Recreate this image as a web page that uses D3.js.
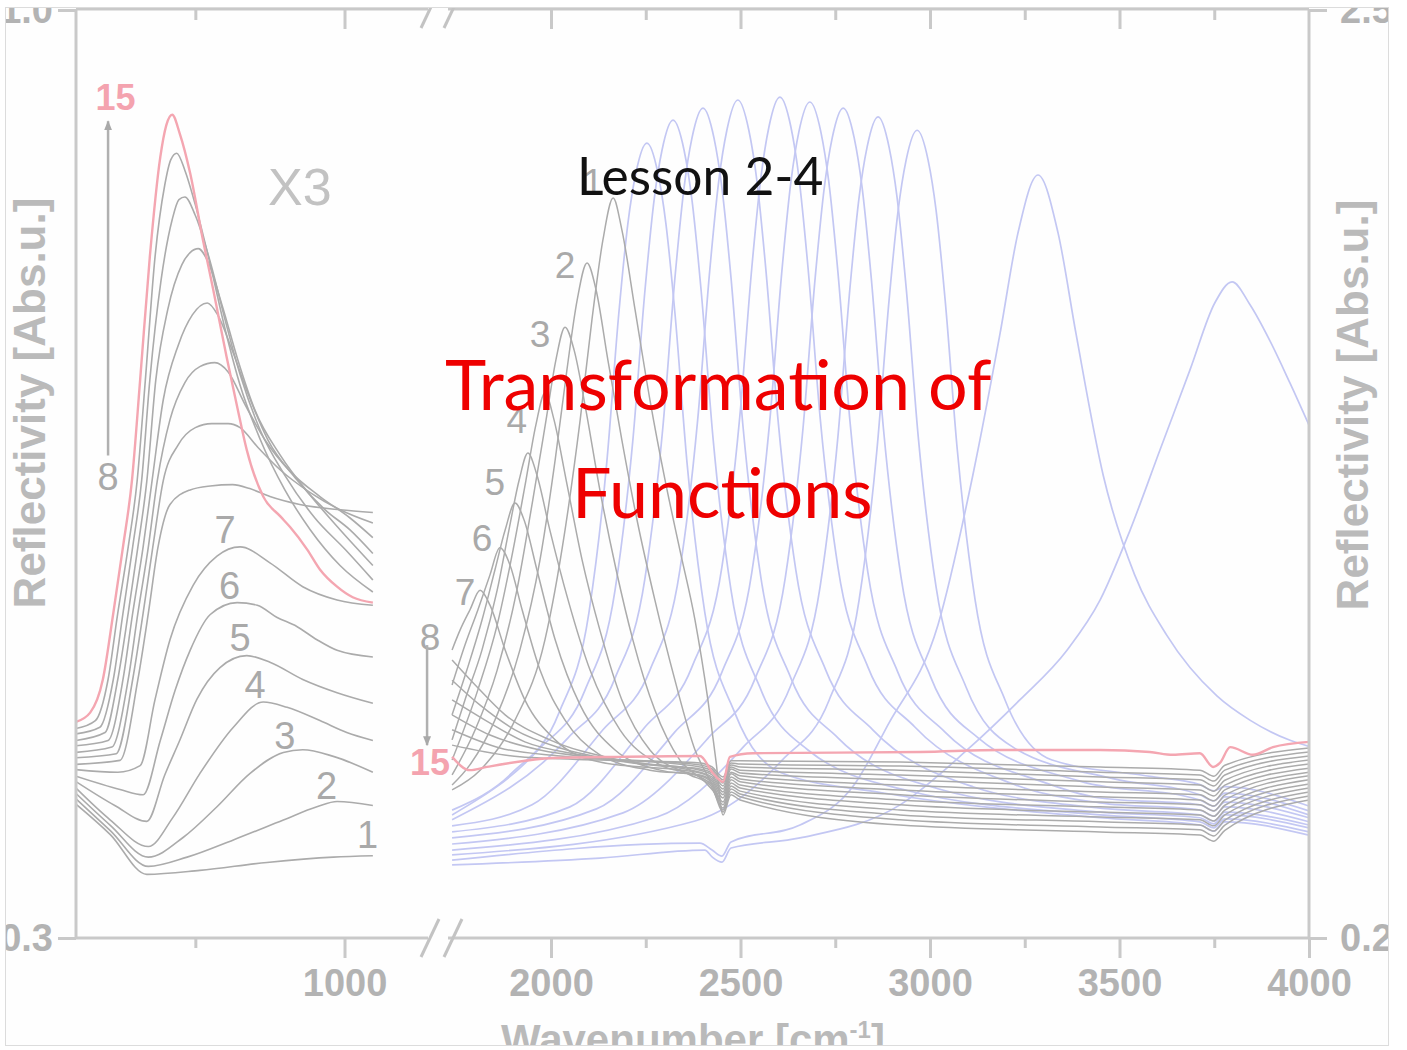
<!DOCTYPE html>
<html>
<head>
<meta charset="utf-8">
<script src="https://cdn.jsdelivr.net/npm/d3@7"></script>
<style>
  body { margin: 0; background: #fff; }
  svg { display: block; }
</style>
</head>
<body>
<div id="chart"></div>
<script>
// ---- left panel (far IR, left axis) : [wavenumber, reflectivity]
const left01 = [[640,0.401],[686,0.378],[735,0.348],[806,0.351],[896,0.357],[985,0.361],[1038,0.362]];
const left02 = [[640,0.405],[686,0.381],[737,0.354],[789,0.361],[851,0.374],[918,0.389],[963,0.399],[990,0.403],[1038,0.400]];
const left03 = [[640,0.409],[686,0.385],[737,0.361],[784,0.376],[829,0.399],[873,0.424],[918,0.440],[944,0.442],[985,0.437],[1038,0.425]];
const left04 = [[640,0.413],[686,0.389],[737,0.369],[770,0.391],[806,0.424],[851,0.459],[891,0.478],[923,0.474],[967,0.464],[1003,0.455],[1038,0.449]];
const left05 = [[640,0.418],[692,0.400],[735,0.388],[759,0.423],[779,0.449],[802,0.480],[833,0.504],[869,0.513],[900,0.508],[944,0.495],[990,0.485],[1038,0.477]];
const left06 = [[640,0.422],[699,0.412],[730,0.408],[753,0.449],[773,0.487],[793,0.517],[820,0.544],[856,0.553],[883,0.551],[909,0.542],[936,0.535],[963,0.525],[990,0.517],[1038,0.512]];
const left07 = [[640,0.427],[696,0.425],[726,0.430],[746,0.480],[766,0.525],[797,0.566],[829,0.588],[860,0.595],[900,0.583],[944,0.565],[990,0.555],[1038,0.551]];
const left08 = [[640,0.431],[699,0.434],[723,0.495],[737,0.545],[750,0.595],[766,0.627],[793,0.638],[820,0.641],[850,0.642],[873,0.639],[900,0.633],[940,0.627],[994,0.623],[1038,0.621]];
const left09 = [[640,0.436],[694,0.439],[716,0.495],[730,0.545],[743,0.595],[757,0.645],[777,0.672],[800,0.685],[822,0.688],[844,0.688],[860,0.685],[884,0.670],[914,0.653],[954,0.636],[994,0.623],[1038,0.613]];
const left10 = [[640,0.440],[688,0.444],[710,0.495],[723,0.545],[737,0.595],[749,0.645],[766,0.691],[786,0.719],[806,0.731],[826,0.734],[844,0.727],[867,0.702],[893,0.676],[927,0.652],[967,0.633],[1007,0.617],[1038,0.602]];
const left11 = [[640,0.445],[683,0.449],[703,0.495],[716,0.545],[730,0.595],[742,0.645],[757,0.706],[777,0.747],[796,0.770],[816,0.779],[830,0.770],[849,0.744],[871,0.710],[897,0.676],[934,0.647],[974,0.623],[1007,0.608],[1038,0.590]];
const left12 = [[640,0.449],[679,0.455],[696,0.495],[710,0.545],[723,0.595],[735,0.645],[747,0.721],[763,0.774],[782,0.808],[793,0.817],[804,0.820],[817,0.810],[836,0.777],[857,0.736],[880,0.698],[914,0.664],[954,0.634],[994,0.608],[1038,0.581]];
const left13 = [[640,0.454],[672,0.459],[690,0.495],[703,0.545],[716,0.595],[728,0.645],[739,0.721],[754,0.796],[769,0.842],[778,0.857],[786,0.859],[800,0.845],[820,0.810],[840,0.766],[860,0.725],[887,0.683],[920,0.649],[960,0.617],[1001,0.593],[1038,0.570]];
const left14 = [[640,0.458],[666,0.464],[683,0.495],[696,0.545],[710,0.595],[722,0.645],[733,0.721],[746,0.814],[759,0.868],[767,0.887],[775,0.892],[786,0.879],[800,0.853],[820,0.808],[840,0.759],[860,0.717],[887,0.676],[920,0.638],[954,0.608],[994,0.581],[1038,0.561]];
const left15 = [[640,0.463],[659,0.470],[676,0.495],[690,0.545],[703,0.595],[715,0.645],[726,0.721],[739,0.814],[753,0.889],[761,0.913],[769,0.921],[779,0.907],[793,0.877],[810,0.827],[824,0.789],[842,0.738],[856,0.701],[869,0.668],[891,0.633],[914,0.618],[927,0.610],[950,0.593],[967,0.578],[990,0.565],[1011,0.557],[1038,0.553]];

// ---- right panel (mid IR, right axis)
const pinkR = [[1739,0.649],[1786,0.616],[1831,0.624],[2005,0.646],[2182,0.649],[2393,0.651],[2427,0.609],[2454,0.587],[2472,0.649],[2533,0.658],[2974,0.661],[3185,0.666],[3449,0.666],[3580,0.661],[3641,0.654],[3712,0.658],[3747,0.624],[3765,0.634],[3792,0.673],[3852,0.654],[3905,0.673],[4000,0.686]];

const grayR01 = [[1739,0.567],[1813,0.616],[1905,0.740],[1984,0.939],[2037,1.211],[2077,1.484],[2108,1.732],[2137,1.930],[2164,2.034],[2187,1.955],[2222,1.756],[2261,1.534],[2301,1.335],[2340,1.162],[2380,0.988],[2414,0.790],[2435,0.641],[2454,0.505],[2475,0.555],[2499,0.542],[2921,0.480],[3449,0.463],[3712,0.455],[3749,0.440],[3778,0.467],[4000,0.542]];
const grayR02 = [[1739,0.579],[1786,0.629],[1852,0.740],[1918,0.914],[1971,1.137],[2011,1.385],[2042,1.608],[2069,1.781],[2095,1.873],[2119,1.806],[2150,1.633],[2187,1.434],[2227,1.236],[2274,1.038],[2327,0.839],[2380,0.666],[2425,0.579],[2454,0.512],[2475,0.562],[2499,0.550],[2921,0.493],[3449,0.475],[3712,0.468],[3749,0.453],[3778,0.480],[4000,0.552]];
const grayR03 = [[1739,0.604],[1800,0.716],[1858,0.864],[1910,1.062],[1952,1.286],[1987,1.484],[2013,1.633],[2037,1.714],[2061,1.657],[2092,1.509],[2129,1.310],[2172,1.112],[2216,0.939],[2274,0.765],[2340,0.641],[2406,0.587],[2435,0.555],[2454,0.517],[2475,0.569],[2499,0.557],[2921,0.505],[3449,0.488],[3712,0.480],[3749,0.465],[3778,0.492],[4000,0.562]];
const grayR04 = [[1739,0.641],[1807,0.815],[1858,0.976],[1900,1.162],[1934,1.335],[1960,1.471],[1984,1.551],[2008,1.484],[2040,1.335],[2082,1.137],[2129,0.963],[2187,0.790],[2261,0.666],[2367,0.604],[2420,0.579],[2454,0.522],[2475,0.577],[2499,0.564],[2921,0.517],[3449,0.500],[3712,0.493],[3749,0.478],[3778,0.505],[4000,0.572]];
const grayR05 = [[1739,0.691],[1773,0.790],[1818,0.914],[1858,1.062],[1889,1.211],[1916,1.335],[1939,1.402],[1963,1.347],[1997,1.211],[2045,1.038],[2103,0.864],[2182,0.716],[2288,0.629],[2393,0.599],[2425,0.579],[2454,0.530],[2475,0.584],[2499,0.572],[2921,0.530],[3449,0.512],[3712,0.505],[3749,0.490],[3778,0.517],[4000,0.582]];
const grayR06 = [[1739,0.753],[1778,0.864],[1818,0.988],[1852,1.112],[1879,1.211],[1905,1.278],[1929,1.236],[1963,1.112],[2011,0.939],[2077,0.777],[2169,0.666],[2288,0.616],[2393,0.602],[2425,0.584],[2454,0.537],[2475,0.592],[2499,0.579],[2921,0.542],[3449,0.525],[3712,0.517],[3749,0.502],[3778,0.529],[4000,0.592]];
const grayR07 = [[1739,0.827],[1773,0.926],[1807,1.013],[1839,1.100],[1865,1.167],[1892,1.124],[1924,1.013],[1971,0.864],[2037,0.740],[2129,0.654],[2261,0.616],[2393,0.604],[2425,0.589],[2454,0.547],[2475,0.599],[2499,0.587],[2921,0.555],[3449,0.537],[3712,0.530],[3749,0.515],[3778,0.542],[4000,0.602]];
const grayR08 = [[1739,0.914],[1760,0.963],[1786,1.013],[1813,1.062],[1839,1.025],[1879,0.914],[1931,0.790],[2011,0.691],[2129,0.636],[2393,0.609],[2425,0.594],[2454,0.555],[2475,0.607],[2499,0.594],[2921,0.567],[3449,0.550],[3712,0.542],[3749,0.527],[3778,0.554],[4000,0.611]];
const grayR09 = [[1739,0.889],[1800,0.827],[1879,0.753],[1997,0.691],[2182,0.641],[2393,0.611],[2425,0.599],[2454,0.562],[2475,0.611],[2499,0.602],[2921,0.579],[3449,0.562],[3712,0.555],[3749,0.540],[3778,0.567],[4000,0.621]];
const grayR10 = [[1739,0.839],[1813,0.777],[1905,0.716],[2024,0.671],[2208,0.636],[2393,0.616],[2425,0.604],[2454,0.569],[2475,0.619],[2499,0.609],[2921,0.592],[3449,0.574],[3712,0.567],[3749,0.552],[3778,0.579],[4000,0.631]];
const grayR11 = [[1739,0.790],[1826,0.740],[1931,0.686],[2077,0.654],[2261,0.629],[2393,0.619],[2425,0.609],[2454,0.577],[2475,0.624],[2499,0.616],[2921,0.604],[3449,0.587],[3712,0.579],[3749,0.564],[3778,0.591],[4000,0.641]];
const grayR12 = [[1739,0.753],[1839,0.703],[1971,0.666],[2129,0.646],[2393,0.624],[2425,0.614],[2454,0.584],[2475,0.629],[2499,0.624],[2921,0.616],[3449,0.599],[3712,0.592],[3749,0.577],[3778,0.604],[4000,0.651]];
const grayR13 = [[1739,0.716],[1865,0.671],[2024,0.651],[2393,0.629],[2425,0.619],[2454,0.592],[2475,0.634],[2499,0.631],[2921,0.626],[3449,0.611],[3712,0.604],[3749,0.589],[3778,0.616],[4000,0.661]];
const grayR14 = [[1739,0.678],[1918,0.649],[2129,0.641],[2393,0.634],[2425,0.624],[2454,0.599],[2475,0.639],[2499,0.639],[2921,0.636],[3449,0.624],[3712,0.616],[3749,0.601],[3778,0.628],[4000,0.671]];

const blueR01 = [[1739,0.517],[1897,0.609],[2021,0.758],[2100,1.006],[2147,1.377],[2179,1.749],[2203,1.972],[2224,2.096],[2253,2.170],[2282,2.096],[2303,1.972],[2327,1.749],[2359,1.377],[2406,1.006],[2485,0.758],[2609,0.609],[2873,0.560],[3449,0.498],[3712,0.480],[3749,0.465],[3778,0.488],[4000,0.455]];
const blueR02 = [[1739,0.505],[1966,0.666],[2090,0.815],[2169,1.062],[2216,1.434],[2248,1.806],[2272,2.029],[2293,2.153],[2322,2.227],[2351,2.153],[2372,2.029],[2396,1.806],[2428,1.434],[2475,1.062],[2554,0.815],[2678,0.666],[2942,0.565],[3449,0.505],[3712,0.488],[3749,0.473],[3778,0.495],[4000,0.463]];
const blueR03 = [[1739,0.493],[2045,0.696],[2169,0.844],[2248,1.092],[2295,1.464],[2327,1.836],[2351,2.059],[2372,2.183],[2401,2.257],[2430,2.183],[2451,2.059],[2475,1.836],[2507,1.464],[2554,1.092],[2633,0.844],[2757,0.696],[3021,0.570],[3449,0.512],[3712,0.498],[3749,0.483],[3778,0.505],[4000,0.473]];
const blueR04 = [[1739,0.478],[1950,0.530],[2137,0.716],[2261,0.864],[2340,1.112],[2387,1.484],[2419,1.856],[2443,2.079],[2464,2.202],[2493,2.277],[2522,2.202],[2543,2.079],[2567,1.856],[2599,1.484],[2646,1.112],[2725,0.864],[2849,0.716],[3113,0.575],[3449,0.522],[3712,0.505],[3749,0.490],[3778,0.512],[4000,0.480]];
const blueR05 = [[1739,0.463],[2050,0.525],[2248,0.723],[2372,0.872],[2451,1.120],[2498,1.491],[2530,1.863],[2554,2.086],[2575,2.210],[2604,2.284],[2633,2.210],[2654,2.086],[2678,1.863],[2710,1.491],[2757,1.120],[2836,0.872],[2960,0.723],[3224,0.580],[3449,0.535],[3712,0.517],[3749,0.502],[3778,0.525],[4000,0.488]];
const blueR06 = [[1739,0.448],[2120,0.520],[2327,0.711],[2451,0.859],[2530,1.107],[2577,1.479],[2609,1.851],[2633,2.074],[2654,2.198],[2683,2.272],[2712,2.198],[2733,2.074],[2757,1.851],[2789,1.479],[2836,1.107],[2915,0.859],[3039,0.711],[3303,0.585],[3449,0.547],[3712,0.530],[3749,0.515],[3778,0.537],[4000,0.498]];
const blueR07 = [[1739,0.433],[2190,0.510],[2415,0.696],[2539,0.844],[2618,1.092],[2665,1.464],[2697,1.836],[2721,2.059],[2742,2.183],[2771,2.257],[2800,2.183],[2821,2.059],[2845,1.836],[2877,1.464],[2924,1.092],[3003,0.844],[3127,0.696],[3391,0.590],[3712,0.542],[3749,0.527],[3778,0.550],[4000,0.505]];
const blueR08 = [[1739,0.418],[2280,0.500],[2507,0.673],[2631,0.822],[2710,1.070],[2757,1.442],[2789,1.813],[2813,2.036],[2834,2.160],[2863,2.235],[2892,2.160],[2913,2.036],[2937,1.813],[2969,1.442],[3016,1.070],[3095,0.822],[3219,0.673],[3483,0.595],[3712,0.555],[3749,0.540],[3778,0.559],[4000,0.515]];
const blueR09 = [[1739,0.406],[2380,0.490],[2610,0.641],[2734,0.790],[2813,1.038],[2860,1.410],[2892,1.781],[2916,2.004],[2937,2.128],[2966,2.202],[2995,2.128],[3016,2.004],[3040,1.781],[3072,1.410],[3119,1.038],[3198,0.790],[3322,0.641],[3586,0.600],[3712,0.580],[3749,0.565],[3778,0.575],[4000,0.527]];
const blueR10 = [[1739,0.393],[2393,0.435],[2425,0.418],[2451,0.403],[2475,0.438],[2657,0.480],[2800,0.580],[2889,0.728],[3021,0.976],[3113,1.347],[3185,1.699],[3232,1.947],[3285,2.091],[3338,1.947],[3385,1.699],[3457,1.347],[3540,1.100],[3625,0.950],[3757,0.800],[3844,0.740],[3950,0.690],[4000,0.675]];
const blueR11 = [[1739,0.381],[2129,0.398],[2406,0.418],[2425,0.401],[2451,0.388],[2475,0.423],[2657,0.448],[2921,0.530],[3098,0.666],[3237,0.790],[3362,0.914],[3449,1.038],[3528,1.211],[3607,1.410],[3686,1.608],[3752,1.775],[3797,1.826],[3844,1.770],[3897,1.680],[3950,1.575],[4000,1.471]];

// ---- ticks
const leftMajorTicks = [1000];
const leftMinorTicks = [800];
const rightMajorTicks = [2000, 2500, 3000, 3500, 4000];
const rightMinorTicks = [2250, 2750, 3250, 3750];
const yLeftTicks = [0.3, 1.0];
const yRightTicks = [0.2, 2.5];

// ---- curve labels [text, wavenumber, value]
const leftLabels = [["8",683,0.648],["7",840,0.608],["6",846,0.566],["5",860,0.527],["4",880,0.491],["3",920,0.453],["2",976,0.415],["1",1031,0.378]];
const rightLabels = [["1",2111,2.074],["2",2037,1.868],["3",1971,1.699],["4",1910,1.484],["5",1852,1.330],["6",1818,1.191],["7",1773,1.058],["8",1681,0.946]];

var width = 1407, height = 1050;
var svg = d3.select("#chart").append("svg")
  .attr("width", width)
  .attr("height", height);

// scales
var xLeft = d3.scaleLinear().domain([640, 1128]).range([76, 440]);
var xRight = d3.scaleLinear().domain([2000, 4000]).range([551, 1309]);
var yLeft = d3.scaleLinear().domain([0.3, 1.0]).range([938, 10]);
var yRight = d3.scaleLinear().domain([0.2, 2.5]).range([938, 10]);

var axisColor = "#c9c9c9", textGray = "#b3b3b3";

var defs = svg.append("defs");
defs.append("clipPath").attr("id", "frame")
  .append("rect").attr("x", 5).attr("y", 7).attr("width", 1384).attr("height", 1039);
defs.append("clipPath").attr("id", "leftPanel")
  .append("rect").attr("x", 76).attr("y", 10).attr("width", 364).attr("height", 928);
defs.append("clipPath").attr("id", "rightPanel")
  .append("rect").attr("x", 440).attr("y", 10).attr("width", 869).attr("height", 928);

var root = svg.append("g").attr("clip-path", "url(#frame)");
root.append("rect").attr("x", 5).attr("y", 7).attr("width", 1384).attr("height", 1039).attr("fill", "#fefefe");

function lineFor(xs, ys) {
  return d3.line()
    .x(function (d) { return xs(d[0]); })
    .y(function (d) { return ys(d[1]); })
    .curve(d3.curveMonotoneX);
}

// left panel curves
var leftG = root.append("g").attr("clip-path", "url(#leftPanel)");
var leftGray = [left01, left02, left03, left04, left05, left06, left07, left08, left09, left10, left11, left12, left13, left14];
leftG.selectAll(".lgray").data(leftGray).enter().append("path")
  .attr("d", lineFor(xLeft, yLeft))
  .attr("fill", "none").attr("stroke", "#ababab").attr("stroke-width", 1.6);
leftG.append("path").datum(left15)
  .attr("d", lineFor(xLeft, yLeft))
  .attr("fill", "none").attr("stroke", "#f4a6b1").attr("stroke-width", 2.4);

// right panel curves
var rightG = root.append("g").attr("clip-path", "url(#rightPanel)");
var blues = [blueR01, blueR02, blueR03, blueR04, blueR05, blueR06, blueR07, blueR08, blueR09, blueR10, blueR11];
var grays = [grayR01, grayR02, grayR03, grayR04, grayR05, grayR06, grayR07, grayR08, grayR09, grayR10, grayR11, grayR12, grayR13, grayR14];
rightG.selectAll(".blue").data(blues).enter().append("path")
  .attr("d", lineFor(xRight, yRight))
  .attr("fill", "none").attr("stroke", "#c3c7f3").attr("stroke-width", 1.7);
rightG.selectAll(".rgray").data(grays).enter().append("path")
  .attr("d", lineFor(xRight, yRight))
  .attr("fill", "none").attr("stroke", "#ababab").attr("stroke-width", 1.5);
rightG.append("path").datum(pinkR)
  .attr("d", lineFor(xRight, yRight))
  .attr("fill", "none").attr("stroke", "#f4a6b1").attr("stroke-width", 2.4);

// axis frame
var axes = root.append("g").attr("stroke", axisColor).attr("stroke-width", 3).attr("fill", "none");
axes.append("line").attr("x1", 76).attr("x2", 1309).attr("y1", 938).attr("y2", 938);
axes.append("line").attr("x1", 76).attr("x2", 1309).attr("y1", 9).attr("y2", 9);
axes.append("line").attr("x1", 76).attr("x2", 76).attr("y1", 9).attr("y2", 938);
axes.append("line").attr("x1", 1309).attr("x2", 1309).attr("y1", 9).attr("y2", 938);

function styleAxis(sel) {
  sel.select(".domain").remove();
  sel.selectAll(".tick line").attr("stroke", axisColor).attr("stroke-width", 3);
  sel.selectAll(".tick text")
    .attr("fill", textGray)
    .style("font-family", "'Liberation Sans', Arial, sans-serif")
    .style("font-weight", "bold")
    .style("font-size", "38px");
}

// bottom ticks (outward) with labels
root.append("g").attr("transform", "translate(0,938)")
  .call(d3.axisBottom(xLeft).tickValues(leftMajorTicks).tickSize(20).tickPadding(11).tickFormat(d3.format("d")))
  .call(styleAxis);
root.append("g").attr("transform", "translate(0,938)")
  .call(d3.axisBottom(xLeft).tickValues(leftMinorTicks).tickSize(10).tickFormat(""))
  .call(styleAxis);
root.append("g").attr("transform", "translate(0,938)")
  .call(d3.axisBottom(xRight).tickValues(rightMajorTicks).tickSize(20).tickPadding(11).tickFormat(d3.format("d")))
  .call(styleAxis);
root.append("g").attr("transform", "translate(0,938)")
  .call(d3.axisBottom(xRight).tickValues(rightMinorTicks).tickSize(10).tickFormat(""))
  .call(styleAxis);

// top ticks (pointing inward)
root.append("g").attr("transform", "translate(0,9)")
  .call(d3.axisBottom(xLeft).tickValues(leftMajorTicks).tickSize(20).tickFormat(""))
  .call(styleAxis);
root.append("g").attr("transform", "translate(0,9)")
  .call(d3.axisBottom(xLeft).tickValues(leftMinorTicks).tickSize(11).tickFormat(""))
  .call(styleAxis);
root.append("g").attr("transform", "translate(0,9)")
  .call(d3.axisBottom(xRight).tickValues(rightMajorTicks.slice(0, 4)).tickSize(20).tickFormat(""))
  .call(styleAxis);
root.append("g").attr("transform", "translate(0,9)")
  .call(d3.axisBottom(xRight).tickValues(rightMinorTicks).tickSize(11).tickFormat(""))
  .call(styleAxis);

// y axes
root.append("g").attr("transform", "translate(76,0)")
  .call(d3.axisLeft(yLeft).tickValues(yLeftTicks).tickSize(18).tickPadding(5).tickFormat(d3.format(".1f")))
  .call(styleAxis);
root.append("g").attr("transform", "translate(1309,0)")
  .call(d3.axisRight(yRight).tickValues(yRightTicks).tickSize(18).tickPadding(13).tickFormat(d3.format(".1f")))
  .call(styleAxis);

// axis break marks
[938, 9].forEach(function (yy) {
  var bx = xLeft.range()[1];
  root.append("rect").attr("x", bx - 12).attr("y", yy - 3).attr("width", 20).attr("height", 6).attr("fill", "#fefefe");
  [bx - 10, bx + 13].forEach(function (sx) {
    root.append("line")
      .attr("x1", sx - 9).attr("y1", yy + 19).attr("x2", sx + 9).attr("y2", yy - 19)
      .attr("stroke", "#c3c3c3").attr("stroke-width", 3);
  });
});

// axis titles
var titleFont = "'Liberation Sans', Arial, sans-serif";
root.append("text")
  .attr("transform", "translate(45,403) rotate(-90)")
  .attr("text-anchor", "middle")
  .style("font-family", titleFont).style("font-weight", "bold").style("font-size", "44px")
  .attr("fill", "#bababa")
  .text("Reflectivity [Abs.u.]");
root.append("text")
  .attr("transform", "translate(1368,405) rotate(-90)")
  .attr("text-anchor", "middle")
  .style("font-family", titleFont).style("font-weight", "bold").style("font-size", "44px")
  .attr("fill", "#bababa")
  .text("Reflectivity [Abs.u.]");
var xt = root.append("text")
  .attr("x", 693).attr("y", 1054)
  .attr("text-anchor", "middle")
  .style("font-family", titleFont).style("font-weight", "bold").style("font-size", "42px")
  .attr("fill", "#bababa");
xt.append("tspan").text("Wavenumber [cm");
xt.append("tspan").attr("dy", -16).style("font-size", "24px").text("-1");
xt.append("tspan").attr("dy", 16).text("]");

// curve labels
var labelFont = "'Liberation Sans', Arial, sans-serif";
root.selectAll(".llab").data(leftLabels).enter().append("text")
  .attr("x", function (d) { return xLeft(d[1]); })
  .attr("y", function (d) { return yLeft(d[2]); })
  .attr("text-anchor", "middle").attr("dy", "0.36em")
  .style("font-family", labelFont).style("font-size", "38px")
  .attr("fill", "#a9a9a9")
  .text(function (d) { return d[0]; });
root.selectAll(".rlab").data(rightLabels).enter().append("text")
  .attr("x", function (d) { return xRight(d[1]); })
  .attr("y", function (d) { return yRight(d[2]); })
  .attr("text-anchor", "middle").attr("dy", "0.36em")
  .style("font-family", labelFont).style("font-size", "37px")
  .attr("fill", "#a9a9a9")
  .text(function (d) { return d[0]; });

root.append("text")
  .attr("x", xLeft(693)).attr("y", yLeft(0.934)).attr("dy", "0.36em")
  .attr("text-anchor", "middle")
  .style("font-family", labelFont).style("font-weight", "bold").style("font-size", "36px")
  .attr("fill", "#f4a3af").text("15");
root.append("text")
  .attr("x", xRight(1681)).attr("y", yRight(0.636)).attr("dy", "0.36em")
  .attr("text-anchor", "middle")
  .style("font-family", labelFont).style("font-weight", "bold").style("font-size", "36px")
  .attr("fill", "#f4a3af").text("15");
root.append("text")
  .attr("x", xLeft(940)).attr("y", yLeft(0.867)).attr("dy", "0.36em")
  .attr("text-anchor", "middle")
  .style("font-family", labelFont).style("font-size", "52px")
  .attr("fill", "#c2c2c2").text("X3");

// arrows
defs.append("marker").attr("id", "arrowHead")
  .attr("viewBox", "0 0 10 10").attr("refX", 9).attr("refY", 5)
  .attr("markerWidth", 4).attr("markerHeight", 4).attr("orient", "auto")
  .append("path").attr("d", "M0,1 L10,5 L0,9 Z").attr("fill", "#a9a9a9");
root.append("line")
  .attr("x1", xLeft(683)).attr("x2", xLeft(683))
  .attr("y1", yLeft(0.664)).attr("y2", yLeft(0.916))
  .attr("stroke", "#b0b0b0").attr("stroke-width", 2.5).attr("marker-end", "url(#arrowHead)");
root.append("line")
  .attr("x1", xRight(1673)).attr("x2", xRight(1673))
  .attr("y1", yRight(0.926)).attr("y2", yRight(0.678))
  .attr("stroke", "#b0b0b0").attr("stroke-width", 2.5).attr("marker-end", "url(#arrowHead)");

// slide titles over the chart
var slideFont = "Lato, 'Open Sans', sans-serif";
root.append("text")
  .attr("x", 577).attr("y", 195)
  .style("font-family", slideFont).style("font-size", "51.5px")
  .attr("fill", "#111111").text("Lesson 2-4");
root.append("text")
  .attr("x", 445).attr("y", 410)
  .style("font-family", slideFont).style("font-size", "70px")
  .attr("fill", "#ee0000").text("Transformation of");
root.append("text")
  .attr("x", 572).attr("y", 518)
  .style("font-family", slideFont).style("font-size", "70px")
  .attr("fill", "#ee0000").text("Functions");

// outer border
svg.append("rect").attr("x", 5.5).attr("y", 7.5).attr("width", 1383).attr("height", 1038)
  .attr("fill", "none").attr("stroke", "#dcdcdc").attr("stroke-width", 1);
</script>
</body>
</html>
